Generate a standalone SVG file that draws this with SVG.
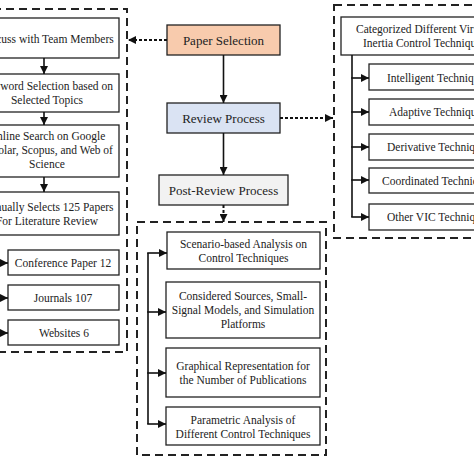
<svg xmlns="http://www.w3.org/2000/svg" width="474" height="474" viewBox="0 0 474 474">
<defs>
<marker id="ah" markerUnits="userSpaceOnUse" markerWidth="9" markerHeight="8" refX="8" refY="4" orient="auto"><path d="M0,0 L8,4 L0,8 Z" fill="#111"/></marker>
<style>
.box{fill:#fff;stroke:#222;stroke-width:1.3}
.grp{fill:none;stroke:#222;stroke-width:2;stroke-dasharray:8,5}
.t{font-family:"Liberation Serif","Times New Roman",serif;font-size:11.5px;fill:#222;text-anchor:middle}
.tb{font-family:"Liberation Serif","Times New Roman",serif;font-size:13px;fill:#222;text-anchor:middle}
.ts{font-family:"Liberation Serif","Times New Roman",serif;font-size:11.5px;fill:#222;text-anchor:start}
.c{fill:none;stroke:#111;stroke-width:1.6}
.d{fill:none;stroke:#111;stroke-width:2;stroke-dasharray:3,2}
</style>
</defs>
<rect x="0" y="0" width="474" height="474" fill="#fff"/>
<g id="groups">
<rect class="grp" x="-20" y="9" width="147" height="343"/>
<rect class="grp" x="334" y="5" width="160" height="233"/>
<rect class="grp" x="137" y="222" width="189" height="233"/>
</g>
<g id="n-discuss"><rect class="box" x="-25" y="18" width="144" height="40"/><text class="t" x="47" y="43">Discuss with Team Members</text></g>
<g id="n-keyword"><rect class="box" x="-25" y="74" width="144" height="38"/><text class="t" x="47" y="90">Keyword Selection based on</text><text class="t" x="47" y="104">Selected Topics</text></g>
<g id="n-online"><rect class="box" x="-25" y="125" width="144" height="52"/><text class="t" x="47" y="140">Online Search on Google</text><text class="t" x="47" y="154">Scholar, Scopus, and Web of</text><text class="t" x="47" y="168">Science</text></g>
<g id="n-manual"><rect class="box" x="-25" y="192" width="144" height="43"/><text class="t" x="47" y="211">Manually Selects 125 Papers</text><text class="t" x="47" y="225">For Literature Review</text></g>
<g id="n-conf"><rect class="box" x="8" y="250" width="111" height="25"/><text class="t" x="63" y="267">Conference Paper 12</text></g>
<g id="n-journals"><rect class="box" x="8" y="285" width="111" height="25"/><text class="t" x="63" y="302">Journals 107</text></g>
<g id="n-websites"><rect class="box" x="8" y="320" width="111" height="25"/><text class="t" x="64" y="337">Websites 6</text></g>
<g id="n-paper"><rect class="box" x="167" y="25" width="113" height="30" fill="#F8CBAD" style="fill:#F8CBAD"/><text class="tb" x="223.5" y="44.5">Paper Selection</text></g>
<g id="n-review"><rect class="box" x="167" y="103" width="113" height="30" style="fill:#DAE3F3"/><text class="tb" x="223.5" y="122.5">Review Process</text></g>
<g id="n-post"><rect class="box" x="159" y="175" width="129" height="30" style="fill:#F2F2F2"/><text class="tb" x="223.5" y="194.5">Post-Review Process</text></g>
<g id="n-categorized"><rect class="box" x="341" y="17" width="160" height="38"/><text class="ts" x="356" y="33">Categorized Different Virtual</text><text class="ts" x="363" y="47">Inertia Control Techniques</text></g>
<g id="n-intelligent"><rect class="box" x="369" y="64" width="130" height="26"/><text class="ts" x="387" y="81.5">Intelligent Techniques</text></g>
<g id="n-adaptive"><rect class="box" x="369" y="99" width="130" height="26"/><text class="ts" x="389" y="116">Adaptive Techniques</text></g>
<g id="n-derivative"><rect class="box" x="369" y="134" width="130" height="26"/><text class="ts" x="387" y="151">Derivative Techniques</text></g>
<g id="n-coordinated"><rect class="box" x="369" y="168" width="130" height="25"/><text class="ts" x="382" y="184.5">Coordinated Techniques</text></g>
<g id="n-other"><rect class="box" x="369" y="204" width="130" height="26"/><text class="ts" x="387" y="221">Other VIC Techniques</text></g>
<g id="n-scenario"><rect class="box" x="167" y="232" width="153" height="37"/><text class="t" x="243.5" y="248">Scenario-based Analysis on</text><text class="t" x="243.5" y="262">Control Techniques</text></g>
<g id="n-sources"><rect class="box" x="166" y="282" width="154" height="56"/><text class="t" x="243" y="300">Considered Sources, Small-</text><text class="t" x="243" y="314">Signal Models, and Simulation</text><text class="t" x="243" y="328">Platforms</text></g>
<g id="n-graphical"><rect class="box" x="166" y="348" width="154" height="49"/><text class="t" x="243" y="370">Graphical Representation for</text><text class="t" x="243" y="384">the Number of Publications</text></g>
<g id="n-parametric"><rect class="box" x="166" y="407" width="154" height="38"/><text class="t" x="243" y="423.5">Parametric Analysis of</text><text class="t" x="243" y="437.5">Different Control Techniques</text></g>
<g id="connectors">
<line class="c" x1="44" y1="58" x2="44" y2="74" marker-end="url(#ah)"/>
<line class="c" x1="44" y1="112" x2="44" y2="125" marker-end="url(#ah)"/>
<line class="c" x1="44" y1="177" x2="44" y2="192" marker-end="url(#ah)"/>
<line class="c" x1="-5" y1="263" x2="8" y2="263" marker-end="url(#ah)"/>
<line class="c" x1="-5" y1="298" x2="8" y2="298" marker-end="url(#ah)"/>
<line class="c" x1="-5" y1="333" x2="8" y2="333" marker-end="url(#ah)"/>
<line class="c" x1="223.5" y1="55" x2="223.5" y2="103" marker-end="url(#ah)"/>
<line class="c" x1="223.5" y1="133" x2="223.5" y2="175" marker-end="url(#ah)"/>
<line class="d" x1="223.5" y1="205" x2="223.5" y2="222" marker-end="url(#ah)"/>
<line class="d" x1="167" y1="40" x2="128" y2="40" marker-end="url(#ah)"/>
<line class="d" x1="280" y1="118" x2="333" y2="118" marker-end="url(#ah)"/>
<path class="c" d="M352,55 V217"/>
<line class="c" x1="351.2" y1="78" x2="369" y2="78" marker-end="url(#ah)"/>
<line class="c" x1="351.2" y1="112" x2="369" y2="112" marker-end="url(#ah)"/>
<line class="c" x1="351.2" y1="147" x2="369" y2="147" marker-end="url(#ah)"/>
<line class="c" x1="351.2" y1="180" x2="369" y2="180" marker-end="url(#ah)"/>
<line class="c" x1="351.2" y1="217" x2="369" y2="217" marker-end="url(#ah)"/>
<path class="c" d="M148,253 V424"/>
<line class="c" x1="147.2" y1="253" x2="167" y2="253" marker-end="url(#ah)"/>
<line class="c" x1="147.2" y1="312" x2="166" y2="312" marker-end="url(#ah)"/>
<line class="c" x1="147.2" y1="373" x2="166" y2="373" marker-end="url(#ah)"/>
<line class="c" x1="147.2" y1="424" x2="166" y2="424" marker-end="url(#ah)"/>
</g>
</svg>
